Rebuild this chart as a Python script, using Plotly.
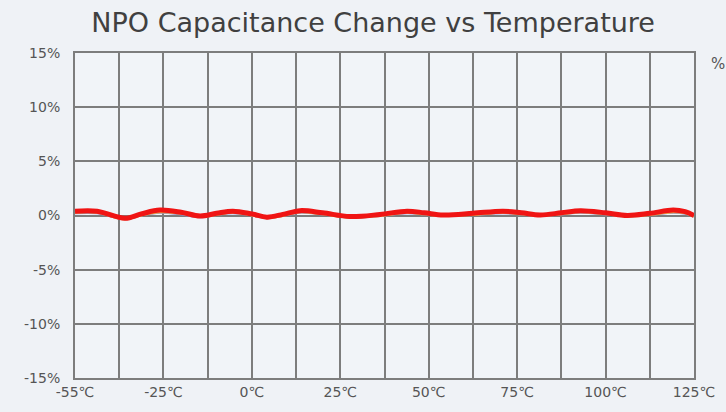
import plotly.graph_objects as go

# grid positions (0..14 = 15 vertical grid lines), labelled every second line
tick_pos = [0, 2, 4, 6, 8, 10, 12, 14]
tick_labels = ["-55℃", "-25℃", "0℃", "25℃", "50℃", "75℃", "100℃", "125℃"]
y_ticks = [-15, -10, -5, 0, 5, 10, 15]
y_labels = ["-15%", "-10%", "-5%", "0%", "5%", "10%", "15%"]

# capacitance change curve (position on grid, % change)
curve_x = [0.0, 0.5, 1.13, 1.5, 1.92, 2.4, 2.83, 3.2, 3.57, 4.0, 4.34, 4.7, 5.09, 5.6,
           6.22, 6.9, 7.51, 7.9, 8.33, 9.0, 9.68, 10.1, 10.52, 11.0, 11.43, 12.0,
           12.49, 13.0, 13.53, 13.8, 14.0]
red_y = [0.4, 0.4, -0.25, 0.15, 0.5, 0.3, -0.05, 0.2, 0.4, 0.15, -0.15, 0.1, 0.45, 0.25,
         -0.1, 0.1, 0.4, 0.25, 0.05, 0.2, 0.4, 0.25, 0.05, 0.25, 0.45, 0.25,
         0.0, 0.2, 0.5, 0.35, 0.0]
yellow_y = [0.3, 0.3, -0.3, 0.05, 0.35, 0.2, -0.1, 0.1, 0.3, 0.05, -0.2, 0.0, 0.35, 0.15,
            -0.15, 0.0, 0.3, 0.15, 0.0, 0.1, 0.3, 0.15, 0.0, 0.15, 0.35, 0.15,
            -0.05, 0.1, 0.35, 0.25, -0.05]
blue_y = [0.2, 0.2, -0.35, 0.0, 0.25, 0.1, -0.15, 0.05, 0.2, 0.0, -0.25, -0.05, 0.25, 0.1,
          -0.2, -0.05, 0.2, 0.1, -0.05, 0.05, 0.2, 0.1, -0.05, 0.1, 0.25, 0.1,
          -0.1, 0.05, 0.25, 0.15, -0.1]

FONT = "DejaVu Sans, Verdana, sans-serif"

fig = go.Figure()
fig.add_trace(go.Scatter(x=curve_x, y=blue_y, mode="lines",
                         line=dict(color="#8a8ad0", width=2, shape="spline"), showlegend=False))
fig.add_trace(go.Scatter(x=curve_x, y=yellow_y, mode="lines",
                         line=dict(color="#f2b23a", width=3, shape="spline"), showlegend=False))
fig.add_trace(go.Scatter(x=curve_x, y=red_y, mode="lines",
                         line=dict(color="#f01414", width=5, shape="spline"), showlegend=False))

fig.update_layout(
    width=726, height=412,
    margin=dict(l=75, r=32, t=53, b=34, autoexpand=False),
    paper_bgcolor="#eff2f6", plot_bgcolor="#f1f4f8",
    title=dict(text="NPO Capacitance Change vs Temperature", x=0.514, xanchor="center",
               y=0.945, yanchor="middle",
               font=dict(family=FONT, size=27, color="#404040")),
    font=dict(family=FONT, color="#555555"),
    xaxis=dict(range=[0, 14], tickvals=tick_pos, ticktext=tick_labels, automargin=False,
               showgrid=True, gridcolor="#7d7d7d", gridwidth=2,
               minor=dict(dtick=1, tick0=0, showgrid=True, gridcolor="#7d7d7d", gridwidth=2),
               zeroline=False, showline=True, linecolor="#7d7d7d", linewidth=2, mirror=True,
               ticks="", tickfont=dict(size=14, color="#555555"), ticklabelstandoff=0),
    yaxis=dict(range=[-15, 15], tickvals=y_ticks, ticktext=y_labels, automargin=False,
               showgrid=True, gridcolor="#7d7d7d", gridwidth=2,
               zeroline=False, showline=True, linecolor="#7d7d7d", linewidth=2, mirror=True,
               ticks="", tickfont=dict(size=14, color="#555555"), ticklabelstandoff=10),
    annotations=[dict(text="%", x=1.024, y=1.0, xref="paper", yref="paper",
                      xanchor="left", yanchor="top", showarrow=False,
                      font=dict(size=15, color="#555555"))],
)

fig.write_html("out.html", config={"displayModeBar": False},
               post_script="document.body.style.margin='0';document.body.style.overflow='hidden';")
